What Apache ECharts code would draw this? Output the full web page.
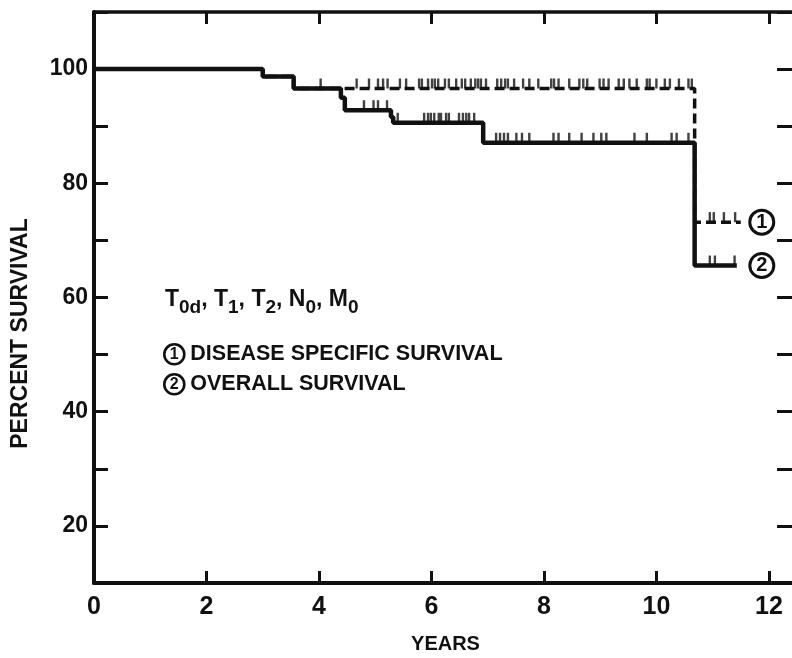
<!DOCTYPE html>
<html>
<head>
<meta charset="utf-8">
<title>Survival</title>
<script src="https://cdn.jsdelivr.net/npm/echarts@6/dist/echarts.min.js"></script>
<style>
  html, body { margin: 0; padding: 0; background: #fff; }
  #chart { width: 792px; height: 658px; }
</style>
</head>
<body>
<div id="chart"></div>
<script>
// Kaplan-Meier step points: [years, percent surviving after that time]
const diseaseSpecificSteps = [
  [0, 100], [3.0, 98.7], [3.55, 96.6], [10.68, 73.2], [11.5, 73.2]
];
const overallSteps = [
  [0, 100], [3.0, 98.7], [3.55, 96.6], [4.39, 95.0], [4.46, 92.8],
  [5.28, 91.6], [5.32, 90.6], [6.92, 87.1], [10.68, 65.6], [11.43, 65.6]
];

// Censored observations (years), shown as small vertical ticks
const diseaseSpecificCensorTop = [
  4.67, 4.89, 5.05, 5.14, 5.22, 5.44, 5.55, 5.78, 5.83, 5.94, 6.01, 6.06,
  6.12, 6.24, 6.31, 6.44, 6.54, 6.60, 6.70, 6.78, 6.83, 6.88, 6.97, 7.17,
  7.24, 7.31, 7.36, 7.47, 7.63, 7.74, 7.90, 8.13, 8.18, 8.26, 8.45, 8.63,
  8.70, 8.77, 8.99, 9.06, 9.15, 9.33, 9.42, 9.52, 9.65, 9.83, 9.88, 10.00,
  10.15, 10.24, 10.40, 10.57, 10.63
];
const diseaseSpecificCensorTail = [10.95, 11.02, 11.2, 11.4];
const overallCensor = [
  4.03, 4.80, 4.97, 5.05, 5.21, 5.40, 5.87, 5.94, 5.99, 6.05, 6.13, 6.17,
  6.26, 6.31, 6.49, 6.56, 6.62, 6.67, 6.76, 7.15, 7.22, 7.29, 7.36, 7.51,
  7.61, 7.74, 8.17, 8.26, 8.45, 8.67, 8.88, 9.02, 9.11, 9.61, 9.83, 10.27,
  10.36, 10.57, 10.95, 11.04, 11.39
];

const xTickStep = 2;
const yTickStep = 10;
const yearsRange = [0, 12.5];
const percentRange = [10, 110];

const axisTitleX = 'YEARS';
const axisTitleY = 'PERCENT SURVIVAL';
const curveNumbers = ['1', '2'];
const legendLines = ['DISEASE SPECIFIC SURVIVAL', 'OVERALL SURVIVAL'];

// survival value of a step curve at time t
function stepValue(steps, t) {
  let v = steps[0][1];
  for (const [x, y] of steps) { if (x <= t) v = y; }
  return v;
}
const censorPoints = (steps, times) => times.map(t => [t, stepValue(steps, t)]);

const INK = '#111';
const SANS = "'Liberation Sans', Arial, sans-serif";

// circled numeral drawn as a bordered rich-text token
const circleStyle = (size, font, stroke) => ({
  fontFamily: SANS, fontWeight: 'bold', fontSize: font, color: INK, fill: INK,
  width: size, height: size, lineHeight: size, align: 'center', verticalAlign: 'middle',
  borderColor: INK, borderWidth: stroke, borderRadius: size / 2 + 2
});

const chart = echarts.init(document.getElementById('chart'), null, { renderer: 'canvas' });

const censorStyle = {
  type: 'scatter',
  symbol: 'rect',
  symbolSize: [2.4, 10],
  symbolOffset: [0, -5],
  itemStyle: { color: INK },
  silent: true,
  z: 3
};

const frameLine = { onZero: false, lineStyle: { color: INK, width: 4 } };

function legendEntry(num, label, top) {
  return {
    type: 'text', left: 163, top: top,
    style: {
      text: '{c|' + num + '}{g| }{t|' + label + '}',
      rich: {
        c: circleStyle(20, 16, 2.6),
        g: { fontSize: 8, width: 6 },
        t: { fontFamily: SANS, fontWeight: 'bold', fontSize: 21.5, fill: INK }
      }
    }
  };
}

chart.setOption({
  backgroundColor: '#fff',
  animation: false,
  grid: { left: 94, right: -5, top: 12, bottom: 75, containLabel: false, outerBoundsMode: 'none' },
  xAxis: [
    {
      type: 'value', min: yearsRange[0], max: yearsRange[1], interval: xTickStep,
      position: 'bottom',
      name: axisTitleX, nameLocation: 'middle', nameGap: 51,
      nameTextStyle: { fontFamily: SANS, fontWeight: 'bold', fontSize: 20, color: INK },
      axisLine: frameLine,
      axisTick: { inside: true, length: 12, lineStyle: { color: INK, width: 3 } },
      axisLabel: {
        margin: 12, color: INK, fontFamily: SANS, fontWeight: 'bold', fontSize: 25,
        formatter: v => (v % 2 === 0 ? String(v) : '')
      },
      splitLine: { show: false }
    },
    {
      type: 'value', min: yearsRange[0], max: yearsRange[1], interval: xTickStep,
      position: 'top',
      axisLine: { onZero: false, lineStyle: { color: INK, width: 3.5 } },
      axisTick: { inside: true, length: 12, lineStyle: { color: INK, width: 3 } },
      axisLabel: { show: false },
      splitLine: { show: false }
    }
  ],
  yAxis: [
    {
      type: 'value', min: percentRange[0], max: percentRange[1], interval: yTickStep,
      position: 'left',
      name: axisTitleY, nameLocation: 'middle', nameGap: 62, nameRotate: 90,
      nameTextStyle: {
        fontFamily: SANS, fontWeight: 'bold', fontSize: 23, color: INK,
        padding: [0, 72, 0, 0]
      },
      axisLine: frameLine,
      axisTick: { inside: true, length: 14, lineStyle: { color: INK, width: 3 } },
      axisLabel: {
        margin: 6, color: INK, fontFamily: SANS, fontWeight: 'bold', fontSize: 23,
        formatter: v => (v % 20 === 0 && v <= 100 ? String(v) : '')
      },
      splitLine: { show: false }
    },
    {
      type: 'value', min: percentRange[0], max: percentRange[1], interval: yTickStep,
      position: 'right',
      axisLine: frameLine,
      axisTick: { inside: true, length: 20, lineStyle: { color: INK, width: 3 } },
      axisLabel: { show: false },
      splitLine: { show: false }
    }
  ],
  series: [
    {
      name: legendLines[0],
      type: 'line', step: 'end', data: diseaseSpecificSteps,
      showSymbol: false, silent: true, z: 2,
      lineStyle: { color: INK, width: 3.5, type: [10, 5] },
      endLabel: {
        show: true, distance: 9,
        formatter: '{c|' + curveNumbers[0] + '}',
        rich: { c: circleStyle(24, 20, 3) }
      }
    },
    {
      name: legendLines[1],
      type: 'line', step: 'end', data: overallSteps,
      showSymbol: false, silent: true, z: 2,
      lineStyle: { color: INK, width: 4.5 },
      endLabel: {
        show: true, distance: 13,
        formatter: '{c|' + curveNumbers[1] + '}',
        rich: { c: circleStyle(24, 20, 3) }
      }
    },
    Object.assign({ data: censorPoints(diseaseSpecificSteps, diseaseSpecificCensorTop) }, censorStyle),
    Object.assign({ data: censorPoints(diseaseSpecificSteps, diseaseSpecificCensorTail) }, censorStyle),
    Object.assign({ data: censorPoints(overallSteps, overallCensor) }, censorStyle)
  ],
  graphic: [
    {
      type: 'text', left: 165, top: 285,
      style: {
        text: '{b|T}{s|0d}{b|, T}{s|1}{b|, T}{s|2}{b|, N}{s|0}{b|, M}{s|0}',
        rich: {
          b: { fontFamily: SANS, fontWeight: 'bold', fontSize: 23, fill: INK, verticalAlign: 'top', height: 30, lineHeight: 24 },
          s: { fontFamily: SANS, fontWeight: 'bold', fontSize: 19, fill: INK, verticalAlign: 'top', height: 30, lineHeight: 24, padding: [8, 0, 0, 0] }
        }
      }
    },
    legendEntry(curveNumbers[0], legendLines[0], 343),
    legendEntry(curveNumbers[1], legendLines[1], 373)
  ]
});
</script>
</body>
</html>
